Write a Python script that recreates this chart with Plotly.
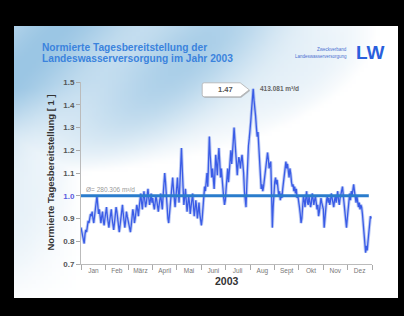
import math, zlib, struct, base64
import pandas as pd
import plotly.graph_objects as go

# ---------------- data ----------------
jan = [0.86, 0.84, 0.82, 0.80, 0.79, 0.83, 0.85, 0.84, 0.87, 0.89, 0.88, 0.90, 0.92, 0.91, 0.93, 0.90,
       0.88, 0.91, 0.95, 0.97, 1.00, 0.96, 0.92, 0.94, 0.90, 0.88, 0.91, 0.93, 0.89, 0.87, 0.90]
feb = [0.92, 0.95, 0.91, 0.88, 0.86, 0.89, 0.93, 0.94, 0.90, 0.87, 0.85, 0.88, 0.92, 0.95, 0.93, 0.89,
       0.86, 0.84, 0.87, 0.90, 0.94, 0.96, 0.92, 0.88, 0.86, 0.89, 0.93, 0.91]
mar = [0.89, 0.87, 0.85, 0.84, 0.87, 0.91, 0.94, 0.92, 0.88, 0.90, 0.93, 0.96, 0.94, 0.91, 0.95, 0.98,
       1.01, 0.97, 0.94, 0.99, 1.02, 0.98, 0.95, 0.97, 1.00, 1.03, 0.99, 0.96, 0.98, 1.01, 0.97]
apr = [0.99, 0.96, 0.94, 0.97, 1.00, 0.98, 0.95, 0.93, 0.96, 0.99, 1.01, 0.97, 0.94, 1.00, 1.05, 1.10,
       1.06, 0.99, 0.93, 0.90, 0.88, 0.92, 0.97, 1.02, 1.05, 1.08, 1.03, 0.98, 0.95, 0.99]
mai = [1.06, 1.08, 1.02, 0.97, 1.05, 1.15, 1.21, 1.12, 1.02, 0.96, 0.99, 1.03, 0.98, 0.93, 0.96, 1.00,
       0.97, 0.92, 0.95, 0.99, 1.01, 0.96, 0.91, 0.94, 0.98, 0.95, 0.90, 0.93, 0.97, 0.92, 0.88]
jun = [0.87, 0.90, 0.95, 1.00, 1.04, 1.02, 1.06, 1.10, 1.04, 1.15, 1.26, 1.18, 1.10, 1.08, 1.12, 1.06,
       1.03, 1.10, 1.18, 1.14, 1.09, 1.16, 1.21, 1.15, 1.08, 1.12, 1.06, 1.02, 0.99, 0.96]
jul = [0.98, 1.03, 1.08, 1.12, 1.06, 1.10, 1.16, 1.20, 1.14, 1.18, 1.24, 1.30, 1.25, 1.20, 1.13, 1.09,
       1.14, 1.17, 1.15, 1.12, 1.16, 1.18, 1.14, 1.10, 1.02, 0.97, 0.95, 1.05, 1.15, 1.22, 1.25]
aug = [1.28, 1.33, 1.38, 1.44, 1.47, 1.42, 1.36, 1.35, 1.30, 1.26, 1.28, 1.22, 1.12, 1.06, 1.03, 1.05,
       1.02, 1.04, 1.07, 1.10, 1.14, 1.17, 1.19, 1.16, 1.12, 1.14, 1.15, 1.02, 0.86, 0.95, 1.03]
sep = [1.06, 1.08, 1.05, 1.07, 1.03, 1.00, 1.02, 0.98, 1.01, 0.99, 1.03, 1.06, 1.10, 1.13, 1.15, 1.12,
       1.14, 1.11, 1.08, 1.12, 1.10, 1.06, 1.04, 1.05, 1.02, 1.04, 1.01, 1.03, 0.99, 1.00]
okt = [0.98, 0.95, 0.92, 0.88, 0.90, 0.96, 1.00, 0.98, 0.95, 0.99, 1.02, 0.97, 0.96, 1.00, 0.98, 0.95,
       0.97, 1.01, 0.99, 0.96, 0.98, 1.00, 0.97, 0.94, 0.96, 0.91, 0.93, 0.97, 0.99, 0.97, 0.95]
nov = [0.94, 0.86, 0.91, 0.96, 0.98, 1.00, 0.97, 0.99, 0.96, 0.98, 1.01, 0.99, 0.97, 0.95, 0.98, 1.00,
       0.97, 0.99, 1.02, 0.98, 0.96, 0.99, 1.01, 1.03, 1.04, 1.00, 0.96, 0.93, 0.89, 0.86]
dez = [0.90, 0.95, 0.99, 1.01, 0.98, 1.02, 1.00, 1.03, 1.05, 1.02, 0.99, 0.97, 1.00, 0.96, 0.95, 0.97,
       0.94, 0.96, 0.95, 0.92, 0.88, 0.83, 0.77, 0.75, 0.78, 0.76, 0.80, 0.84, 0.89, 0.91, 0.90]

month_labels = ["Jan", "Feb", "März", "April", "Mai", "Juni", "Juli", "Aug", "Sept", "Okt", "Nov", "Dez"]
y_ticks = [0.7, 0.8, 0.9, 1.0, 1.1, 1.2, 1.3, 1.4, 1.5]
mean_value = 1.0
mean_label = "Ø= 280.306 m³/d"
peak_label = "413.081 m³/d"
year = 2003

values = jan + feb + mar + apr + mai + jun + jul + aug + sep + okt + nov + dez
dates = pd.date_range(f"{year}-01-01", periods=len(values), freq="D")
month_starts = pd.date_range(f"{year}-01-01", f"{year + 1}-01-01", freq="MS")
month_mids = [month_starts[i] + (month_starts[i + 1] - month_starts[i]) / 2 for i in range(12)]

# ---------------- geometry ----------------
W, H = 404, 316
L, R, T, B = 81, 372, 82, 264   # plot area in pixels


def px_x(p):
    return (p - L) / (R - L)


def px_y(p):
    return (B - p) / (B - T)


# ---------------- background image (slide with light-blue wash) ----------------
def png_data_uri(w, h, func):
    raw = bytearray()
    for j in range(h):
        raw.append(0)
        for i in range(w):
            raw += bytes(func(i / (w - 1), j / (h - 1)))

    def chunk(tag, data):
        c = struct.pack(">I", len(data)) + tag + data
        return c + struct.pack(">I", zlib.crc32(tag + data) & 0xffffffff)

    png = (b"\x89PNG\r\n\x1a\n"
           + chunk(b"IHDR", struct.pack(">IIBBBBB", w, h, 8, 2, 0, 0, 0))
           + chunk(b"IDAT", zlib.compress(bytes(raw)))
           + chunk(b"IEND", b""))
    return "data:image/png;base64," + base64.b64encode(png).decode()


def wash(u, v):
    t1 = max(0.0, 1 - (u / 0.95) ** 2 - (v / 0.55) ** 2)
    t2 = max(0.0, 1 - u / 0.17) * max(0.0, 1 - v / 1.05) * 0.75
    t = min(1.0, max(t1, t2) * 1.2)
    t *= 0.8 + 0.2 * math.sin(14 * u + 9 * v)
    base = (155, 198, 228)
    return tuple(int(round(255 + (c - 255) * t)) for c in base)


bg_uri = png_data_uri(96, 68, wash)

FONT = "Arial, Liberation Sans, sans-serif"

fig = go.Figure()

# halo of series
fig.add_trace(go.Scatter(x=dates, y=values, mode="lines",
                         line=dict(color="rgba(110,140,230,0.45)", width=3.2),
                         hoverinfo="skip", showlegend=False))
# series
fig.add_trace(go.Scatter(x=dates, y=values, mode="lines",
                         line=dict(color="#3a5ce6", width=1.3),
                         showlegend=False))
# mean line
fig.add_trace(go.Scatter(x=[dates[0], pd.Timestamp(f"{year}-12-28")], y=[mean_value, mean_value],
                         mode="lines", line=dict(color="#2a7ccc", width=3),
                         showlegend=False))

peak_i = max(range(len(values)), key=lambda i: values[i])
peak_x, peak_y = dates[peak_i], values[peak_i]

shapes = [
    dict(type="path", xref="x", yref="y", xsizemode="pixel", ysizemode="pixel",
         xanchor=peak_x, yanchor=peak_y,
         path="M -50,3 L -50,-7 Q -50,-9 -48,-9 L -12,-9 L -3,-2 L -12,5 L -48,5 Q -50,5 -50,3 Z",
         fillcolor="rgba(150,150,150,0.6)", line=dict(width=0), layer="above"),
    dict(type="path", xref="x", yref="y", xsizemode="pixel", ysizemode="pixel",
         xanchor=peak_x, yanchor=peak_y,
         path="M -51,4 L -51,-6 Q -51,-8 -49,-8 L -13,-8 L -4,-1 L -13,6 L -49,6 Q -51,6 -51,4 Z",
         fillcolor="white", line=dict(color="#b0b0b0", width=0.8), layer="above"),
]

annotations = [
    dict(x=peak_x, y=peak_y, xref="x", yref="y", text=f"<b>{peak_y:.2f}</b>", showarrow=False,
         xshift=-28, yshift=-1, font=dict(family=FONT, size=7.5, color="#555")),
    dict(x=peak_x, y=peak_y, xref="x", yref="y", text=f"<b>{peak_label}</b>", showarrow=False,
         xanchor="left", xshift=5, yshift=0, font=dict(family=FONT, size=6.5, color="#666")),
    dict(x=dates[0], y=mean_value, xref="x", yref="y", text=mean_label, showarrow=False,
         xanchor="left", yanchor="bottom", xshift=3, yshift=1,
         font=dict(family=FONT, size=6.5, color="#999")),
    dict(x=px_x(40), y=px_y(47.5), xref="paper", yref="paper", xanchor="left", yanchor="middle",
         text="<b>Normierte Tagesbereitstellung der</b>", showarrow=False,
         font=dict(family=FONT, size=10.2, color="#3b83dd")),
    dict(x=px_x(40), y=px_y(58.5), xref="paper", yref="paper", xanchor="left", yanchor="middle",
         text="<b>Landeswasserversorgung im Jahr 2003</b>", showarrow=False,
         font=dict(family=FONT, size=10.2, color="#3b83dd")),
    dict(x=px_x(349), y=px_y(50), xref="paper", yref="paper", xanchor="right", yanchor="middle",
         text="Zweckverband", showarrow=False, font=dict(family=FONT, size=4.5, color="#4a6fd0")),
    dict(x=px_x(349), y=px_y(56), xref="paper", yref="paper", xanchor="right", yanchor="middle",
         text="Landeswasserversorgung", showarrow=False, font=dict(family=FONT, size=4.5, color="#4a6fd0")),
    dict(x=px_x(370), y=px_y(53), xref="paper", yref="paper", xanchor="center", yanchor="middle",
         text="<b>LW</b>", showarrow=False, font=dict(family=FONT, size=19, color="#2a5fdc")),
    dict(x=px_x(42), y=px_y(173), xref="paper", yref="paper", textangle=-90,
         text="<b>Normierte Tagesbereitstellung [ 1 ]</b>", showarrow=False,
         font=dict(family=FONT, size=9.5, color="#333")),
    dict(x=px_x(226.5), y=px_y(289), xref="paper", yref="paper",
         text=f"<b>{year}</b>", showarrow=False, font=dict(family=FONT, size=10.5, color="#333")),
]

y_ticktext = [f"<span style='color:#5a5ae0'>{v:.1f}</span>" if v == mean_value else f"{v:.1f}"
              for v in y_ticks]

fig.update_layout(
    width=W, height=H, autosize=False,
    margin=dict(l=L, r=W - R, t=T, b=H - B, pad=0),
    paper_bgcolor="black", plot_bgcolor="rgba(0,0,0,0)",
    showlegend=False,
    shapes=shapes, annotations=annotations,
    images=[dict(source=bg_uri, xref="paper", yref="paper", x=px_x(14), y=px_y(26),
                 sizex=(398 - 14) / (R - L), sizey=(298 - 26) / (B - T),
                 xanchor="left", yanchor="top", sizing="stretch", layer="below")],
    xaxis=dict(type="date", range=[month_starts[0], month_starts[-1]],
               tickmode="array", tickvals=month_mids, ticktext=month_labels, ticks="",
               tickfont=dict(family=FONT, size=6.5, color="#777"),
               showgrid=False, zeroline=False, showline=True, linecolor="#bbbbbb", linewidth=1,
               minor=dict(tickmode="array", tickvals=list(month_starts), ticks="outside",
                          ticklen=5, tickcolor="#aaaaaa", tickwidth=1, showgrid=False)),
    yaxis=dict(range=[0.7, 1.5], tickmode="array", tickvals=y_ticks, ticktext=y_ticktext,
               ticks="outside", ticklen=4, tickcolor="#aaaaaa",
               tickfont=dict(family=FONT, size=8, color="#555", weight="bold"),
               showgrid=False, zeroline=False, showline=True, linecolor="#bbbbbb", linewidth=1),
)

fig.write_html("out.html", config={"displayModeBar": False},
               post_script="document.body.style.margin='0';document.body.style.background='black';")
